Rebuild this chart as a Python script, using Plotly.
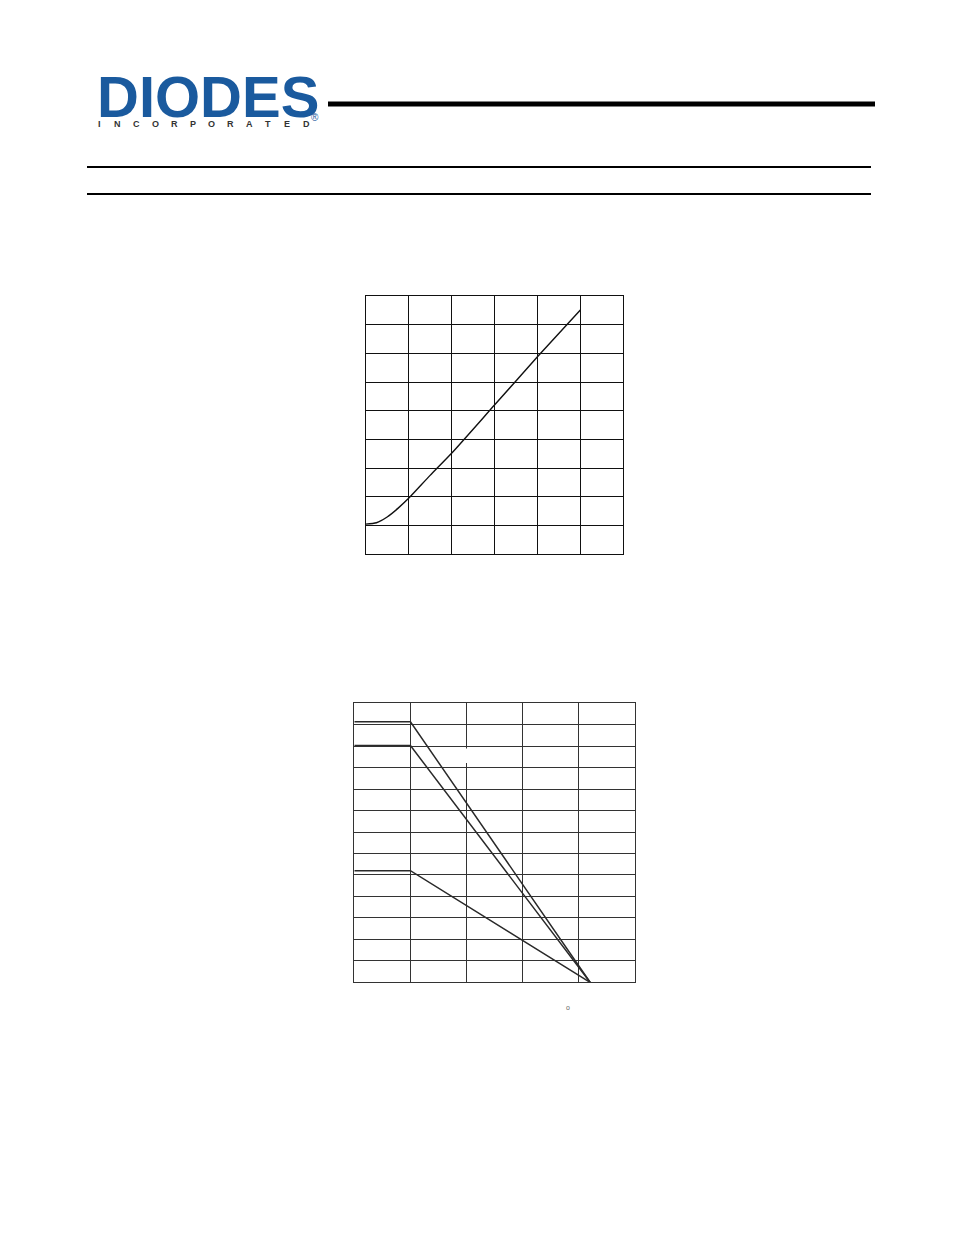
import plotly.graph_objects as go

OFF = 8  # page body margin
W, H = 954 - OFF, 1235 - OFF

# Chart 1 data (grid units)
c1_x = [0, 0.25, 0.5, 0.75, 1.0, 1.5, 2.0, 3.0, 4.0, 5.0]
c1_y = [1.05, 1.1, 1.3, 1.6, 1.95, 2.75, 3.52, 5.2, 6.88, 8.51]

# Chart 2 data (grid units)
c2_x = [0, 1.0, 4.2]
c2_y1 = [12.14, 12.14, 0]
c2_y2 = [11.03, 11.03, 0]
c2_y3 = [5.2, 5.2, 0]

logo_letters = list("INCORPORATED")


def px_x(v):
    return (v - OFF) / W


def px_y(v):
    return 1 - (v - OFF) / H


fig = go.Figure()

fig.add_trace(go.Scatter(x=c1_x, y=c1_y, mode="lines", xaxis="x", yaxis="y",
                         line=dict(color="#111111", width=1.4, shape="spline", smoothing=0.6),
                         showlegend=False, hoverinfo="skip"))
for ys in (c2_y1, c2_y2, c2_y3):
    fig.add_trace(go.Scatter(x=c2_x, y=ys, mode="lines", xaxis="x2", yaxis="y2",
                             line=dict(color="#2a2a2a", width=1.5),
                             showlegend=False, hoverinfo="skip"))

ax_common = dict(showgrid=True, gridwidth=1, zeroline=False, showticklabels=False,
                 ticks="", showline=True, mirror=True, linewidth=1.2, dtick=1, tick0=0)

fig.update_layout(
    width=W, height=H,
    margin=dict(l=0, r=0, t=0, b=0),
    paper_bgcolor="white", plot_bgcolor="white",
    xaxis=dict(domain=[px_x(365.7), px_x(623.3)], range=[0, 6], gridcolor="#111111",
               linecolor="#111111", anchor="y", **ax_common),
    yaxis=dict(domain=[px_y(554.3), px_y(296)], range=[0, 9], gridcolor="#111111",
               linecolor="#111111", anchor="x", **ax_common),
    xaxis2=dict(domain=[px_x(354.3), px_x(635)], range=[0, 5], gridcolor="#333333",
                linecolor="#333333", anchor="y2", **ax_common),
    yaxis2=dict(domain=[px_y(982.3), px_y(703.3)], range=[0, 13], gridcolor="#333333",
                linecolor="#333333", anchor="x2", **ax_common),
)

shapes = [
    dict(type="line", xref="paper", yref="paper", x0=px_x(328), x1=px_x(875),
         y0=px_y(104), y1=px_y(104), line=dict(color="black", width=5)),
    dict(type="line", xref="paper", yref="paper", x0=px_x(87), x1=px_x(871),
         y0=px_y(167), y1=px_y(167), line=dict(color="black", width=2)),
    dict(type="line", xref="paper", yref="paper", x0=px_x(87), x1=px_x(871),
         y0=px_y(194), y1=px_y(194), line=dict(color="black", width=2)),
    # small gap in a gridline of chart 2
    dict(type="rect", xref="paper", yref="paper", x0=px_x(466), x1=px_x(469.5),
         y0=px_y(763), y1=px_y(748.5), line=dict(width=0), fillcolor="white"),
]
fig.update_layout(shapes=shapes)

ann = [
    dict(text="<b>DIODES</b>", x=px_x(95), y=px_y(96), xref="paper", yref="paper",
         xanchor="left", yanchor="middle", showarrow=False,
         font=dict(family="Liberation Sans", size=58, color="#1a5a9e")),
    dict(text="®", x=px_x(315), y=px_y(118), xref="paper", yref="paper",
         xanchor="center", yanchor="middle", showarrow=False,
         font=dict(family="Liberation Sans", size=10, color="#1a5a9e")),
    dict(text="o", x=px_x(568), y=px_y(1007), xref="paper", yref="paper",
         xanchor="center", yanchor="middle", showarrow=False,
         font=dict(family="Liberation Sans", size=7, color="#666666")),
]
n = len(logo_letters)
for i, ch in enumerate(logo_letters):
    xp = 99 + i * (306 - 99) / (n - 1)
    ann.append(dict(text=f"<b>{ch}</b>", x=px_x(xp), y=px_y(124.5), xref="paper", yref="paper",
                    xanchor="center", yanchor="middle", showarrow=False,
                    font=dict(family="Liberation Sans", size=9, color="#333333")))
fig.update_layout(annotations=ann)

fig.write_html("out.html")
